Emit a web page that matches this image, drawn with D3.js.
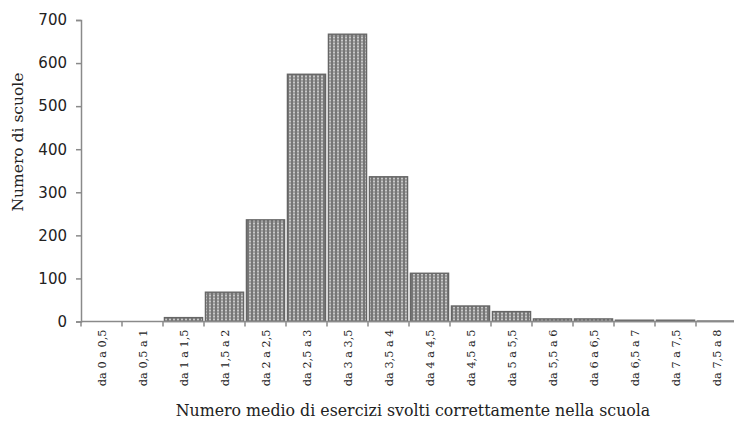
<!DOCTYPE html>
<html><head><meta charset="utf-8">
<script src="https://cdn.jsdelivr.net/npm/d3@7"></script>
<style>body{margin:0;background:#fff}svg{display:block}</style>
</head><body>
<script>
const categories = ["da 0 a 0,5","da 0,5 a 1","da 1 a 1,5","da 1,5 a 2","da 2 a 2,5","da 2,5 a 3","da 3 a 3,5","da 3,5 a 4","da 4 a 4,5","da 4,5 a 5","da 5 a 5,5","da 5,5 a 6","da 6 a 6,5","da 6,5 a 7","da 7 a 7,5","da 7,5 a 8"];
const values = [0,0,9,68,236,574,667,336,112,36,23,6,6,3,3,1];
const yTicks = [0,100,200,300,400,500,600,700];

const W=734,H=427;
const m={left:81,top:20,bottom:321.5};
const svg=d3.select("body").append("svg").attr("width",W).attr("height",H);
const defs=svg.append("defs");
const pat=defs.append("pattern").attr("id","p").attr("patternUnits","userSpaceOnUse").attr("width",4).attr("height",3);
pat.append("rect").attr("width",4).attr("height",3).attr("fill","#767676");
pat.append("rect").attr("x",1).attr("y",0.5).attr("width",2).attr("height",2).attr("fill","#c8c8c8");

const x=d3.scaleBand().domain(categories).range([m.left,m.left+656]).paddingInner(0.07).paddingOuter(0.035);
const y=d3.scaleLinear().domain([0,700]).range([m.bottom,m.top]);

svg.append("g").selectAll("rect").data(values).join("rect")
 .attr("x",(d,i)=>x(categories[i])).attr("width",x.bandwidth())
 .attr("y",d=>y(d)).attr("height",d=>m.bottom-y(d))
 .attr("fill","url(#p)").attr("stroke","#666").attr("stroke-width",1.4);

// y axis
const ya=svg.append("g").attr("transform",`translate(${m.left},0)`)
 .call(d3.axisLeft(y).tickValues(yTicks).tickSize(5).tickPadding(9));
ya.select(".domain").attr("stroke","#8a8a8a").attr("stroke-width",1.5);
ya.selectAll(".tick line").attr("stroke","#8a8a8a").attr("stroke-width",1.5);
ya.selectAll("text").attr("font-family","DejaVu Sans").attr("font-size",15).attr("fill","#222");

// x axis
const bw=656/16;
const xa=svg.append("g").attr("transform",`translate(0,${m.bottom})`);
xa.append("line").attr("x1",m.left).attr("x2",W).attr("stroke","#8a8a8a").attr("stroke-width",1.5);
xa.selectAll(".tk").data(d3.range(17)).join("line")
 .attr("x1",i=>m.left+i*bw).attr("x2",i=>m.left+i*bw).attr("y1",0).attr("y2",5)
 .attr("stroke","#8a8a8a").attr("stroke-width",1.5);
xa.selectAll(".lb").data(categories).join("text")
 .attr("transform",d=>`translate(${x(d)+x.bandwidth()/2+4.5},8) rotate(-90)`)
 .attr("text-anchor","end").attr("font-family","DejaVu Serif").attr("font-size",11.3).attr("fill","#222")
 .text(d=>d);

svg.append("text").attr("transform","translate(23,142) rotate(-90)").attr("text-anchor","middle")
 .attr("font-family","DejaVu Serif").attr("font-size",15.5).attr("fill","#222").text("Numero di scuole");
svg.append("text").attr("x",413).attr("y",416).attr("text-anchor","middle")
 .attr("font-family","DejaVu Serif").attr("font-size",15.8).attr("fill","#222")
 .text("Numero medio di esercizi svolti correttamente  nella scuola");
</script>
</body></html>
